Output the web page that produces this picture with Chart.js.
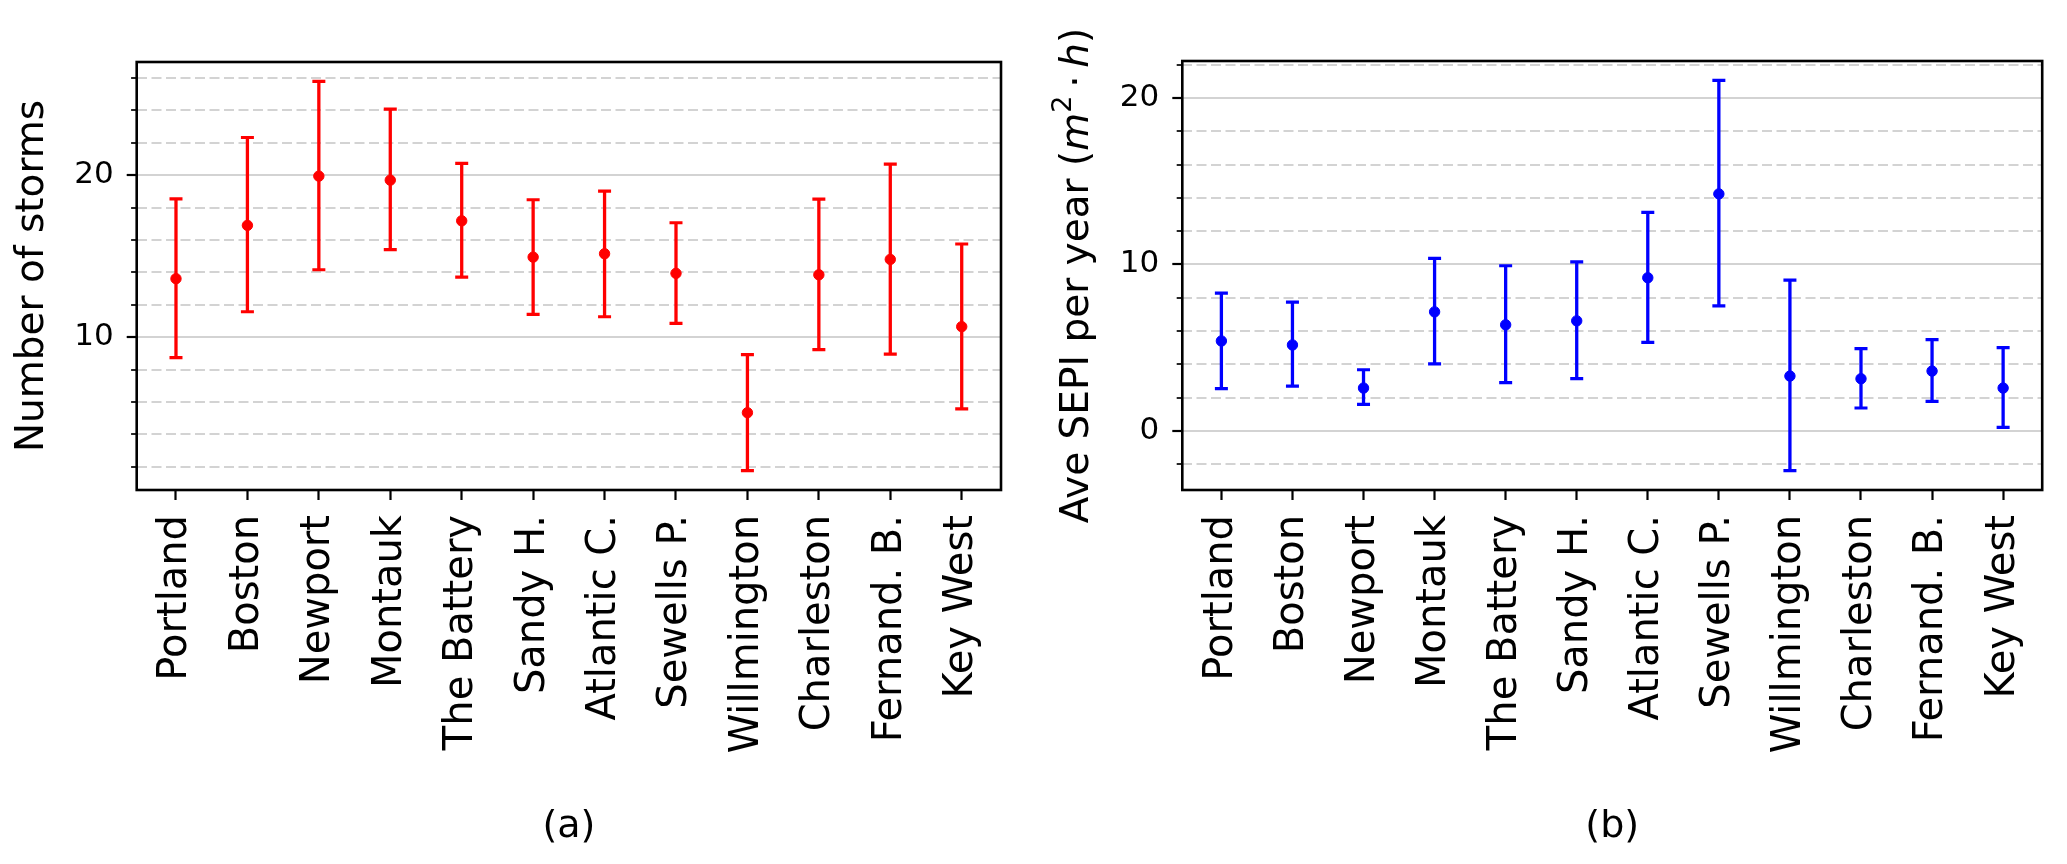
<!DOCTYPE html>
<html>
<head>
<meta charset="utf-8">
<script src="https://cdn.jsdelivr.net/npm/chart.js@4.4.0/dist/chart.umd.min.js"></script>
<style>
html, body { margin: 0; padding: 0; background: #ffffff; }
#wrap { position: relative; width: 2067px; height: 864px; overflow: hidden; background: #ffffff; }
canvas { position: absolute; top: 0; }
#c1 { left: 0; }
#c2 { left: 1034px; }
</style>
</head>
<body>
<div id="wrap">
  <canvas id="c1" width="1034" height="864"></canvas>
  <canvas id="c2" width="1033" height="864"></canvas>
</div>
<script>
// ---------------- DATA ----------------
const categories = ['Portland', 'Boston', 'Newport', 'Montauk', 'The Battery', 'Sandy H.',
  'Atlantic C.', 'Sewells P.', 'Willmington', 'Charleston', 'Fernand. B.', 'Key West'];

// (a) Number of storms: mean with lower / upper error-bar ends
const stormsMean = [13.61, 16.90, 19.94, 19.69, 17.18, 14.94, 15.15, 13.94, 5.34, 13.85, 14.80, 10.65];
const stormsLow  = [8.74, 11.57, 14.16, 15.40, 13.71, 11.41, 11.26, 10.85, 1.77, 9.23, 8.96, 5.57];
const stormsHigh = [18.54, 22.32, 25.78, 24.07, 20.72, 18.48, 19.01, 17.06, 8.92, 18.52, 20.68, 15.75];

// (b) Ave SEPI per year: mean with lower / upper error-bar ends
const sepiMean = [5.40, 5.16, 2.57, 7.15, 6.37, 6.61, 9.20, 14.24, 3.29, 3.13, 3.59, 2.57];
const sepiLow  = [2.53, 2.69, 1.59, 4.02, 2.89, 3.13, 5.32, 7.51, -2.39, 1.37, 1.77, 0.20];
const sepiHigh = [8.27, 7.73, 3.67, 10.36, 9.92, 10.16, 13.13, 21.06, 9.06, 4.94, 5.48, 5.00];

// tick values
const stormsMajorTicks = [10, 20];
const stormsMinorTicks = [2, 4, 6, 8, 12, 14, 16, 18, 22, 24, 26];
const sepiMajorTicks = [0, 10, 20];
const sepiMinorTicks = [-2, 2, 4, 6, 8, 12, 14, 16, 18, 22];

// ---------------- STYLE ----------------
Chart.defaults.font.family = "'DejaVu Sans', sans-serif";
Chart.defaults.color = '#000000';

const GRID = '#d3d3d3';

const boxPlugin = {
  id: 'box',
  afterDatasetsDraw(chart) {
    const a = chart.chartArea, ctx = chart.ctx;
    ctx.save();
    ctx.strokeStyle = '#000000';
    ctx.lineWidth = 2.6;
    ctx.strokeRect(a.left, a.top, a.right - a.left, a.bottom - a.top);
    ctx.restore();
  }
};

const sepiTitlePlugin = {
  id: 'sepiTitle',
  afterDraw(chart) {
    const ctx = chart.ctx, a = chart.chartArea;
    const parts = [
      { t: 'Ave SEPI per year (', f: '39px "DejaVu Sans"', dy: 0 },
      { t: 'm', f: 'italic 39px "DejaVu Sans"', dy: 0 },
      { t: '2', f: '27px "DejaVu Sans"', dy: -14 },
      { t: '\u2009\u00B7\u2009', f: '39px "DejaVu Sans"', dy: 0 },
      { t: 'h', f: 'italic 39px "DejaVu Sans"', dy: 0 },
      { t: ')', f: '39px "DejaVu Sans"', dy: 0 }
    ];
    ctx.save();
    let total = 0;
    parts.forEach(p => { ctx.font = p.f; p.w = ctx.measureText(p.t).width; total += p.w; });
    ctx.translate(44, (a.top + a.bottom) / 2);
    ctx.rotate(-Math.PI / 2);
    ctx.fillStyle = '#000000';
    ctx.textBaseline = 'middle';
    ctx.textAlign = 'left';
    let x = -total / 2;
    parts.forEach(p => { ctx.font = p.f; ctx.fillText(p.t, x, p.dy); x += p.w; });
    ctx.restore();
  }
};

function buildChart(canvasId, o) {
  const pts = arr => arr.map((v, i) => ({ x: i, y: v }));
  const errLine = [];
  categories.forEach((c, i) => {
    errLine.push({ x: i, y: o.low[i] }, { x: i, y: o.high[i] }, { x: i, y: null });
  });
  const plugins = [boxPlugin];
  if (o.extraPlugin) plugins.push(o.extraPlugin);
  return new Chart(document.getElementById(canvasId), {
    type: 'scatter',
    data: {
      datasets: [
        { data: pts(o.mean), order: 0, showLine: false, pointStyle: 'circle', pointRadius: 5.2,
          pointBackgroundColor: o.color, pointBorderColor: o.color, pointBorderWidth: 1,
          backgroundColor: o.color, borderColor: o.color },
        { data: pts(o.low), order: 1, showLine: false, pointStyle: 'line', pointRadius: 6.5,
          pointBorderWidth: 3.2, pointBorderColor: o.color, borderColor: o.color },
        { data: pts(o.high), order: 1, showLine: false, pointStyle: 'line', pointRadius: 6.5,
          pointBorderWidth: 3.2, pointBorderColor: o.color, borderColor: o.color },
        { data: errLine, order: 2, showLine: true, spanGaps: false, borderColor: o.color,
          borderWidth: 3.3, pointRadius: 0, fill: false }
      ]
    },
    options: {
      responsive: false,
      animation: false,
      devicePixelRatio: 1,
      layout: { padding: { left: 0, right: o.padRight, top: o.padTop, bottom: 0 } },
      plugins: { legend: { display: false }, tooltip: { enabled: false } },
      scales: {
        x: {
          type: 'linear', min: -0.55, max: 11.55,
          afterBuildTicks: s => { s.ticks = categories.map((c, i) => ({ value: i })); },
          ticks: { callback: v => categories[v], autoSkip: false, minRotation: 90, maxRotation: 90,
                   font: { size: 40 }, padding: 15, color: '#000000' },
          grid: { drawOnChartArea: false, drawTicks: true, tickLength: 10, tickWidth: 2.2, tickColor: '#000000' },
          border: { display: false },
          title: { display: true, text: o.caption, font: { size: 38 }, padding: { top: 0, bottom: 14 }, color: '#000000' },
          afterFit: s => { s.height = 374; }
        },
        y: {
          type: 'linear', position: 'left', weight: 1, min: o.min, max: o.max,
          afterBuildTicks: s => { s.ticks = o.major.map(v => ({ value: v })); },
          ticks: { font: { size: 31 }, padding: 13, color: '#000000', autoSkip: false, callback: v => String(v) },
          grid: { color: GRID, lineWidth: 2, tickLength: 10, tickWidth: 2.2, tickColor: '#000000' },
          border: { display: false },
          title: o.yTitle ? { display: true, text: o.yTitle, font: { size: 39 }, padding: { top: 9, bottom: 0 }, color: '#000000' }
                          : { display: false },
          afterFit: s => { s.width = o.yWidth; }
        },
        y2: {
          type: 'linear', position: 'left', weight: 0, min: o.min, max: o.max,
          afterBuildTicks: s => { s.ticks = o.minor.map(v => ({ value: v })); },
          ticks: { display: false, autoSkip: false },
          grid: { color: GRID, lineWidth: 2, tickLength: 5.6, tickWidth: 1.7, tickColor: '#000000' },
          border: { display: false, dash: [10, 4.5] },
          afterFit: s => { s.width = 0; }
        }
      }
    },
    plugins: plugins
  });
}

buildChart('c1', {
  mean: stormsMean, low: stormsLow, high: stormsHigh, color: '#ff0000',
  min: 0.57, max: 26.98, major: stormsMajorTicks, minor: stormsMinorTicks,
  yTitle: 'Number of storms', caption: '(a)',
  yWidth: 136.7, padRight: 33, padTop: 62
});

buildChart('c2', {
  mean: sepiMean, low: sepiLow, high: sepiHigh, color: '#0000ff',
  min: -3.56, max: 22.23, major: sepiMajorTicks, minor: sepiMinorTicks,
  yTitle: null, caption: '(b)',
  yWidth: 148.3, padRight: 19.3, padTop: 61,
  extraPlugin: sepiTitlePlugin
});
</script>
</body>
</html>
